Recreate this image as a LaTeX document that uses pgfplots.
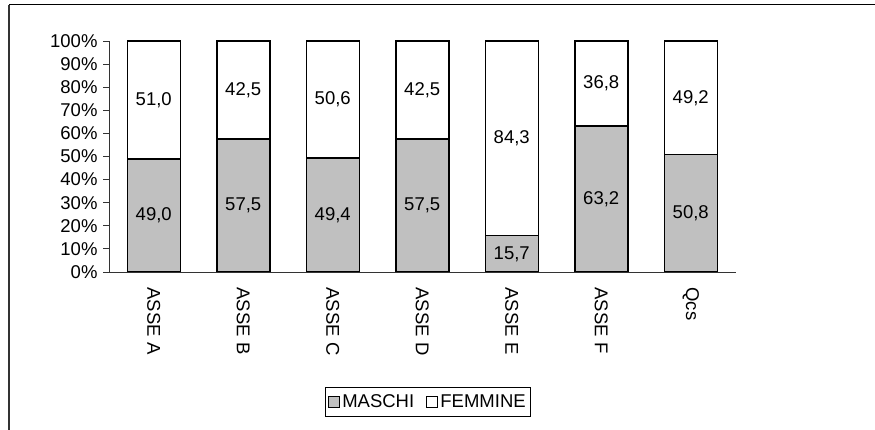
\documentclass[border=0pt]{standalone}
\usepackage{fontspec}
\setmainfont{Liberation Sans}
\usepackage{pgfplots}
\pgfplotsset{compat=1.18}
\usepackage{pgfplotstable}
\definecolor{barg}{RGB}{192,192,192}
\pgfplotstableread{
x m f mlab flab mmid fmid
0 49.0 51.0 49,0 51,0 24.50 74.50
1 57.5 42.5 57,5 42,5 28.75 78.75
2 49.4 50.6 49,4 50,6 24.70 74.70
3 57.5 42.5 57,5 42,5 28.75 78.75
4 15.7 84.3 15,7 84,3 7.85 57.85
5 63.2 36.8 63,2 36,8 31.60 81.60
6 50.8 49.2 50,8 49,2 25.40 75.40
}\datatable
\begin{document}
\begin{tikzpicture}[x=1pt,y=1pt]
\useasboundingbox (0,0) rectangle (875,430);
\draw[line width=1.8pt, color=black!80] (9,0) -- (9,425);
\draw[line width=1pt, color=black] (9,425) -- (875,425);
\pgfplotsset{
  common/.style={
    at={(109pt,158pt)}, anchor=south west,
    scale only axis, width=626.5pt, height=231pt,
    xmin=-0.5, xmax=6.5, ymin=0, ymax=100,
    font=\fontsize{18.5}{22}\selectfont,
  }
}
\begin{axis}[common,
  ybar stacked, bar width=53pt,
  axis lines*=left,
  axis line style={line width=0.8pt, color=black!80},
  ytick={0,10,...,100},
  yticklabels={0\%,10\%,20\%,30\%,40\%,50\%,60\%,70\%,80\%,90\%,100\%},
  ytick align=outside, major tick length=6pt,
  ytick style={line width=0.8pt, color=black!80},
  yticklabel style={font=\fontsize{18.5}{22}\selectfont},
  yticklabel shift=2pt,
  xtick={0,...,6},
  xticklabels={ASSE A,ASSE B,ASSE C,ASSE D,ASSE E,ASSE F,Qcs},
  xtick style={draw=none},
  minor xtick={-0.5,0.5,...,6.5},
  minor tick length=6pt, xtick align=outside,
  minor x tick style={line width=0.8pt, color=black!80},
  xticklabel style={rotate=-90, anchor=west, font=\fontsize{18.5}{22}\selectfont},
  xticklabel shift=6pt,
  legend style={at={(0.509,-0.563)}, anchor=center, legend columns=2,
    draw=black, line width=0.8pt, inner xsep=3pt, inner ysep=5pt,
    font=\fontsize{18.5}{22}\selectfont,
    /tikz/every even column/.append style={column sep=10pt}},
  legend image code/.code={\draw[#1, line width=1.2pt] (0pt,-5.5pt) rectangle (11pt,5.5pt);},
]
\addplot[fill=barg, draw=black, line width=1.5pt] table[x=x, y=m]{\datatable};
\addlegendentry{MASCHI}
\addplot[fill=white, draw=black, line width=1.5pt] table[x=x, y=f]{\datatable};
\addlegendentry{FEMMINE}
\end{axis}
\begin{axis}[common, hide axis,
  every node near coord/.style={anchor=center, font=\fontsize{18.5}{22}\selectfont, text=black}]
\addplot[draw=none, mark=none, nodes near coords, point meta=explicit symbolic]
  table[x=x, y=mmid, meta=mlab]{\datatable};
\addplot[draw=none, mark=none, nodes near coords, point meta=explicit symbolic]
  table[x=x, y=fmid, meta=flab]{\datatable};
\end{axis}
\end{tikzpicture}
\end{document}
